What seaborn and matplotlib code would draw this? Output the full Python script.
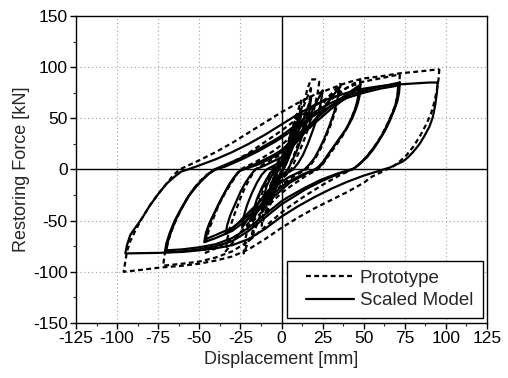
import numpy as np
import pandas as pd
import matplotlib
matplotlib.use("Agg")
import matplotlib.pyplot as plt
from matplotlib.lines import Line2D
from matplotlib.patches import Rectangle
from matplotlib.ticker import MultipleLocator
import seaborn as sns

# ---------------- data (displacement [mm], restoring force [kN]) ----------------
# Scaled model loops (solid)
scaled_loop_95 = [(95, 85), (94.5, 75), (93.5, 63), (92, 51), (90, 42), (87, 33), (84, 25), (80, 17),
                  (77, 12), (74, 8), (70, 5), (66, 2), (62, 0), (50, -6), (40, -12), (30, -19), (20, -27),
                  (10, -36), (0, -46), (-10, -58), (-20, -68), (-30, -74), (-40, -77), (-50, -79),
                  (-60, -80.5), (-75, -81.5), (-95, -82), (-94, -74), (-92, -64), (-89, -57), (-85, -48),
                  (-80, -35), (-75, -24), (-70, -14), (-65, -7), (-61, -2), (-57, 0), (-50, 4), (-40, 10),
                  (-30, 17), (-20, 25), (-10, 34), (0, 44), (10, 54), (20, 63), (30, 70), (40, 75),
                  (50, 79), (60, 81.5), (70, 83), (80, 84), (90, 85), (95, 85)]
scaled_loop_72 = [(72, 85), (71.5, 75), (70.5, 67), (69, 60), (66, 48), (63, 38), (60, 30), (56, 20),
                  (52, 12), (48, 6), (45, 2), (43, 0), (35, -4), (25, -11), (15, -19), (5, -29), (0, -34),
                  (-10, -47), (-20, -60), (-30, -70), (-40, -75), (-50, -78), (-60, -80), (-71, -81),
                  (-70, -72), (-68, -62), (-65, -50), (-61, -38), (-57, -27), (-53, -18), (-49, -11),
                  (-45, -5), (-41, 0), (-35, 4), (-25, 11), (-15, 19), (-5, 28), (0, 33), (10, 45),
                  (20, 56), (30, 65), (40, 72), (50, 77), (60, 81), (72, 85)]
scaled_loop_72b = [(71, 82), (70.5, 72), (69.5, 64), (68, 57), (65, 46), (62, 36), (59, 28), (55, 19),
                   (51, 11), (47, 5), (44, 1), (42, 0), (34, -4), (24, -10), (14, -18), (4, -27), (0, -31),
                   (-10, -44), (-20, -57), (-30, -67), (-40, -73), (-50, -76), (-60, -78), (-70, -79),
                   (-69, -70), (-67, -60), (-64, -48), (-60, -36), (-56, -25), (-52, -17), (-48, -10),
                   (-44, -4), (-40, 0), (-34, 3), (-24, 10), (-14, 18), (-4, 27), (0, 31), (10, 42),
                   (20, 53), (30, 62), (40, 70), (50, 75), (60, 79), (71, 82)]
scaled_loop_48 = [(48, 83), (47.5, 72), (46.5, 65), (45.5, 60), (43, 50), (40, 41), (37, 34), (33, 25),
                  (29, 16), (26, 8), (23, 2), (21, 0), (15, -4), (5, -13), (0, -20), (-10, -34),
                  (-20, -48), (-30, -60), (-40, -67), (-47, -71), (-46, -62), (-44, -53), (-41, -43),
                  (-38, -33), (-35, -24), (-32, -15), (-29, -8), (-26, -2), (-24, 0), (-15, 6), (-5, 14),
                  (0, 19), (10, 33), (20, 48), (30, 62), (40, 74), (48, 83)]
scaled_loop_48b = [(47, 80), (46.5, 70), (45.5, 63), (44.5, 58), (42, 48), (39, 39), (36, 32), (32, 23),
                   (28, 14), (25, 7), (22, 2), (20, 0), (14, -4), (4, -12), (0, -17), (-10, -31),
                   (-20, -45), (-30, -57), (-40, -64), (-46, -68), (-45, -59), (-43, -50), (-40, -40),
                   (-37, -30), (-34, -21), (-31, -13), (-28, -6), (-25, -1), (-23, 0), (-14, 5), (-4, 13),
                   (0, 17), (10, 30), (20, 45), (30, 59), (40, 71), (47, 80)]
scaled_loop_35 = [(35, 80), (34, 68), (32, 56), (29, 42), (26, 30), (23, 20), (20, 11), (17, 5), (14, 0),
                  (5, -7), (0, -12), (-10, -26), (-20, -42), (-28, -55), (-34, -63), (-33, -54),
                  (-31, -44), (-28, -33), (-25, -22), (-22, -13), (-19, -6), (-16, 0), (-10, 4), (0, 12),
                  (10, 28), (20, 48), (28, 65), (35, 80)]
scaled_loop_24 = [(25, 77), (24, 66), (22, 52), (19, 38), (16, 25), (13, 14), (10, 6), (7, 0), (0, -7),
                  (-10, -24), (-18, -42), (-24, -57), (-23, -46), (-21, -35), (-18, -23), (-15, -13),
                  (-12, -5), (-9, 0), (0, 8), (8, 26), (15, 45), (20, 62), (25, 77)]
scaled_loop_18 = [(18, 70), (17, 58), (15, 44), (12, 30), (9, 17), (6, 7), (4, 0), (0, -6), (-7, -20),
                  (-13, -36), (-18, -50), (-17, -40), (-15, -29), (-12, -18), (-9, -9), (-6, -2), (-5, 0),
                  (0, 6), (6, 22), (11, 40), (15, 56), (18, 70)]
scaled_loop_12 = [(12, 55), (11, 42), (9, 30), (6, 18), (3, 6), (1, 0), (-3, -10), (-8, -25), (-12, -40),
                  (-11, -28), (-9, -16), (-6, -6), (-3, 0), (0, 6), (4, 20), (8, 36), (12, 55)]
scaled_loop_9 = [(9, 45), (8, 34), (6, 22), (4, 11), (2, 3), (1, 0), (-2, -8), (-5, -20), (-9, -34),
                 (-8, -24), (-6, -13), (-4, -5), (-2, 0), (0, 5), (3, 16), (6, 29), (9, 45)]
scaled_loop_6 = [(6, 32), (4, 18), (2, 6), (0, -2), (-3, -12), (-6, -26), (-5, -14), (-3, -4), (-1, 2),
                 (2, 12), (4, 22), (6, 32)]

# Prototype loops (dashed)
proto_loop_96 = [(96, 98), (95.5, 88), (94.5, 78), (93, 66), (91, 55), (88, 44), (84, 32), (80, 22),
                 (76, 14), (72, 8), (68, 3), (64, 0), (55, -7), (50, -13), (40, -22), (30, -30), (20, -38),
                 (10, -47), (0, -57), (-10, -68), (-20, -78), (-30, -85), (-40, -89), (-50, -92),
                 (-60, -94), (-75, -96), (-85, -98), (-96, -100), (-95, -90), (-94, -80), (-92, -70),
                 (-89, -60), (-85, -48), (-80, -35), (-75, -24), (-70, -14), (-66, -6), (-62, 0),
                 (-50, 9), (-40, 17), (-30, 26), (-20, 36), (-10, 46), (0, 56), (10, 65), (20, 73),
                 (30, 79), (40, 85), (50, 89), (60, 91), (72, 94), (85, 96), (96, 98)]
proto_loop_72 = [(72, 93), (71.5, 82), (70.5, 72), (69, 62), (66, 50), (63, 40), (60, 31), (56, 21),
                 (52, 13), (48, 6), (45, 2), (43, 0), (35, -6), (25, -15), (15, -25), (5, -36), (0, -42),
                 (-10, -56), (-20, -70), (-30, -80), (-40, -86), (-50, -90), (-60, -92), (-72, -94),
                 (-71, -82), (-69, -70), (-66, -56), (-62, -42), (-58, -30), (-54, -20), (-50, -12),
                 (-46, -6), (-42, -1), (-40, 0), (-30, 7), (-20, 16), (-10, 27), (0, 38), (10, 50),
                 (20, 62), (30, 72), (40, 80), (50, 86), (60, 89), (72, 93)]
proto_loop_48 = [(48, 88), (47.5, 77), (46.5, 68), (45, 60), (42, 48), (39, 38), (36, 30), (32, 21),
                 (28, 12), (25, 5), (22, 0), (15, -6), (5, -17), (0, -23), (-10, -38), (-20, -55),
                 (-30, -68), (-40, -77), (-47, -82), (-46, -70), (-44, -58), (-41, -46), (-38, -34),
                 (-34, -22), (-30, -12), (-27, -4), (-25, 0), (-15, 8), (-5, 18), (0, 24), (10, 38),
                 (20, 54), (30, 68), (40, 80), (48, 88)]
proto_loop_35 = [(36, 84), (35, 72), (33, 58), (30, 44), (27, 32), (24, 21), (21, 12), (18, 5), (15, 0),
                 (5, -9), (0, -15), (-10, -32), (-20, -52), (-28, -68), (-34, -80), (-33, -68),
                 (-31, -55), (-28, -41), (-25, -28), (-22, -17), (-19, -8), (-16, 0), (-10, 6), (0, 15),
                 (10, 33), (20, 53), (28, 70), (36, 84)]
proto_loop_23 = [(23, 86), (22, 75), (20, 60), (17, 44), (14, 30), (11, 18), (8, 8), (6, 0), (0, -10),
                 (-8, -30), (-15, -52), (-20, -70), (-23, -82), (-22, -68), (-20, -54), (-17, -40),
                 (-14, -27), (-11, -16), (-8, -7), (-6, 0), (0, 12), (5, 30), (10, 50), (14, 68),
                 (16, 80), (18, 88), (21, 88), (23, 86)]
proto_loop_18 = [(18, 80), (17, 66), (15, 50), (12, 34), (9, 20), (6, 8), (4, 0), (0, -8), (-7, -26),
                 (-13, -46), (-18, -66), (-17, -52), (-15, -38), (-12, -24), (-9, -12), (-6, -3), (-4, 0),
                 (0, 9), (6, 30), (11, 52), (15, 68), (18, 80)]
proto_loop_12 = [(12, 68), (11, 52), (9, 38), (6, 22), (3, 8), (1, 0), (-3, -12), (-8, -32), (-12, -55),
                 (-11, -40), (-9, -26), (-6, -12), (-3, -2), (0, 8), (4, 26), (8, 46), (12, 68)]
proto_loop_9 = [(9, 54), (8, 40), (6, 26), (4, 13), (2, 4), (1, 0), (-2, -10), (-5, -26), (-9, -44),
                (-8, -32), (-6, -18), (-4, -7), (-2, 0), (0, 6), (3, 20), (6, 36), (9, 54)]
proto_loop_6 = [(6, 38), (4, 22), (2, 8), (0, 0), (-3, -14), (-6, -32), (-5, -18), (-3, -6), (-1, 2),
                (2, 14), (4, 26), (6, 38)]

series_names = ["Prototype", "Scaled Model"]
x_ticks = [-125, -100, -75, -50, -25, 0, 25, 50, 75, 100, 125]
y_ticks = [-150, -100, -50, 0, 50, 100, 150]
x_label = "Displacement [mm]"
y_label = "Restoring Force [kN]"

# ---------------- build table ----------------
rows = []
scaled = [scaled_loop_95, scaled_loop_72, scaled_loop_72b, scaled_loop_48, scaled_loop_48b,
          scaled_loop_35, scaled_loop_24, scaled_loop_18, scaled_loop_12, scaled_loop_9, scaled_loop_6]
proto = [proto_loop_96, proto_loop_72, proto_loop_48, proto_loop_35, proto_loop_23,
         proto_loop_18, proto_loop_12, proto_loop_9, proto_loop_6]
for name, loops in (("Prototype", proto), ("Scaled Model", scaled)):
    for i, loop in enumerate(loops):
        for k, (x, y) in enumerate(loop):
            rows.append({"series": name, "loop": f"{name}-{i}", "x": x, "y": y, "order": k})
df = pd.DataFrame(rows)

# ---------------- plot ----------------
sns.set_style("white")
plt.rcParams["font.family"] = ["Liberation Sans", "DejaVu Sans"]

fig = plt.figure(figsize=(5.08, 3.78), dpi=100)
ax = fig.add_axes([0.1496, 0.1455, 0.8091, 0.8122])

ax.grid(True, which="major", color="#a0a0a0", linestyle=(0, (1, 2.5)), linewidth=0.8)
ax.set_axisbelow(True)
ax.axhline(0, color="black", lw=1.0, zorder=1)
ax.axvline(0, color="black", lw=1.0, zorder=1)

LW = 1.6
sns.lineplot(data=df[df.series == "Scaled Model"], x="x", y="y", units="loop", estimator=None,
             sort=False, color="black", lw=LW, ax=ax, legend=False)
sns.lineplot(data=df[df.series == "Prototype"], x="x", y="y", units="loop", estimator=None,
             sort=False, color="black", lw=LW, ax=ax, legend=False)
for line in ax.get_lines()[-len(proto):]:
    line.set_linestyle((0, (2.2, 1.5)))

ax.set_xlim(-125, 125)
ax.set_ylim(-150, 150)
ax.set_xticks(x_ticks)
ax.set_yticks(y_ticks)
ax.set_xticklabels([str(t) for t in x_ticks])
ax.set_yticklabels([str(t) for t in y_ticks])
ax.xaxis.set_minor_locator(MultipleLocator(12.5))
ax.yaxis.set_minor_locator(MultipleLocator(25))
ax.tick_params(axis="both", which="major", direction="out", length=4, width=1,
               labelsize=12.5, color="black", labelcolor="black", pad=2,
               bottom=True, left=True)
ax.tick_params(axis="both", which="minor", direction="out", length=2.5, width=0.8,
               bottom=True, left=True)
for s in ax.spines.values():
    s.set_color("black")
    s.set_linewidth(1.0)

ax.set_xlabel(x_label, fontsize=13, labelpad=3)
ax.set_ylabel(y_label, fontsize=13, labelpad=2)

# legend frame (square, black) and entries
ax.add_patch(Rectangle((0.513, 0.0163), 0.477, 0.186, transform=ax.transAxes,
                       facecolor="white", edgecolor="black", linewidth=1.0, zorder=5))
handles = [Line2D([0], [0], color="black", lw=LW, linestyle=(0, (2.2, 1.5))),
           Line2D([0], [0], color="black", lw=LW)]
leg = ax.legend(handles, series_names, loc="center left", fontsize=13.5, frameon=False,
                handlelength=2.55, borderpad=0, labelspacing=0.28, handletextpad=0.3,
                borderaxespad=0, bbox_to_anchor=(0.560, 0.109))
leg.set_zorder(6)

fig.savefig("out.png", dpi=100)
